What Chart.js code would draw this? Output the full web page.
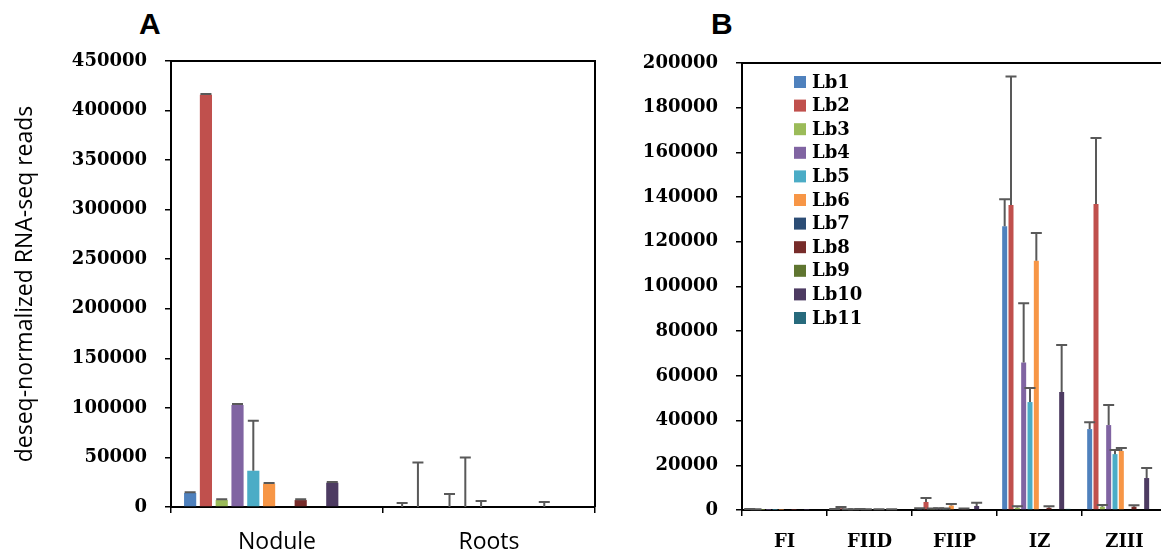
<!DOCTYPE html>
<html lang="en">
<head>
<meta charset="UTF-8">
<title>Leghemoglobin expression</title>
<script src="https://cdn.jsdelivr.net/npm/chart.js"></script>
<style>
  html, body { margin: 0; padding: 0; overflow: hidden; background: #fff; width: 1161px; height: 556px; }
  .panel { position: absolute; top: 0; }
  .tag { position: absolute; top: 9px; font: bold 30px "Liberation Sans", Arial, sans-serif; line-height: 30px; }
</style>
</head>
<body>
<div class="tag" style="left:139px">A</div>
<div class="tag" style="left:711px">B</div>
<canvas id="chartA" class="panel" style="left:0" width="610" height="556"></canvas>
<canvas id="chartB" class="panel" style="left:620px" width="560" height="556"></canvas>

<script>
// genes and colours
const genes = ['Lb1', 'Lb2', 'Lb3', 'Lb4', 'Lb5', 'Lb6', 'Lb7', 'Lb8', 'Lb9', 'Lb10', 'Lb11'];
const geneColors = ['#4F81BD', '#C0504D', '#9BBB59', '#8064A2', '#4BACC6', '#F79646',
                    '#2C4D75', '#772C2A', '#5F7530', '#4D3B62', '#276A7C'];

// panel A: tissues (values per gene, Lb1..Lb11)
const tissues = ['Nodule', 'Roots'];
const noduleMeans = [14200, 416000, 7000, 103000, 36600, 23500, 0, 7000, 0, 24500, 0];
const noduleErr   = [800, 800, 800, 800, 50400, 600, 0, 800, 0, 600, 0];
const rootsMeans  = [0, 0, 0, 0, 0, 0, 0, 0, 0, 0, 0];
const rootsErr    = [4000, 45000, 0, 13000, 50000, 6000, 0, 0, 0, 5000, 0];

// panel B: nodule zones
const zones = ['FI', 'FIID', 'FIIP', 'IZ', 'ZIII'];
const fiMeans   = [300, 200, 100, 100, 100, 100, 0, 100, 0, 100, 0];
const fiErr     = [100, 100, 0, 0, 0, 0, 0, 0, 0, 0, 0];
const fiidMeans = [300, 800, 200, 200, 300, 200, 0, 200, 0, 200, 0];
const fiidErr   = [100, 500, 100, 100, 100, 100, 0, 100, 0, 100, 0];
const fiipMeans = [600, 3600, 500, 600, 500, 2000, 0, 500, 0, 1800, 0];
const fiipErr   = [200, 1800, 200, 200, 200, 700, 0, 200, 0, 1400, 0];
const izMeans   = [127000, 136500, 1000, 66000, 48300, 111500, 0, 1000, 0, 52800, 500];
const izErr     = [12000, 57500, 700, 26500, 6300, 12400, 0, 700, 0, 21000, 0];
const ziiiMeans = [36200, 136900, 1500, 38000, 25000, 26400, 0, 1500, 0, 14300, 0];
const ziiiErr   = [3100, 29500, 700, 9000, 1800, 1300, 0, 600, 0, 4500, 0];

const serifBold = { family: 'DejaVu Serif', weight: 'bold', size: 18 };

function buildDatasets(meansByCat, errByCat) {
    const sets = genes.map((g, i) => ({
        label: g,
        data: meansByCat.map(m => m[i]),
        errors: errByCat.map(e => e[i]),
        backgroundColor: geneColors[i],
        borderWidth: 0
    }));
    // empty trailing series (the original sheet leaves an unused slot)
    sets.push({ label: '', data: meansByCat.map(() => null), errors: [] });
    return sets;
}

// upper error bars drawn from the bar tops
const errorBars = {
    id: 'errorBars',
    afterDatasetsDraw(chart) {
        const ctx = chart.ctx;
        const y = chart.scales.y;
        ctx.save();
        ctx.strokeStyle = '#595959';
        ctx.lineWidth = 2;
        chart.data.datasets.forEach((ds, di) => {
            const meta = chart.getDatasetMeta(di);
            meta.data.forEach((bar, j) => {
                const err = ds.errors[j];
                if (!err) return;
                const top = y.getPixelForValue(ds.data[j] + err);
                ctx.beginPath();
                ctx.moveTo(bar.x, bar.y);
                ctx.lineTo(bar.x, top);
                ctx.moveTo(bar.x - 5.5, top);
                ctx.lineTo(bar.x + 5.5, top);
                ctx.stroke();
            });
        });
        ctx.restore();
    }
};

// top and right borders of the plot box
const frame = {
    id: 'frame',
    afterDraw(chart) {
        const { left, right, top, bottom } = chart.chartArea;
        const ctx = chart.ctx;
        ctx.save();
        ctx.strokeStyle = '#000';
        ctx.lineWidth = 2;
        ctx.beginPath();
        ctx.moveTo(left, top);
        ctx.lineTo(right, top);
        ctx.lineTo(right, bottom);
        ctx.stroke();
        ctx.restore();
    }
};

// legend inside the plot of panel B
const innerLegend = {
    id: 'innerLegend',
    afterDraw(chart) {
        const ctx = chart.ctx;
        ctx.save();
        ctx.font = 'bold 18px "DejaVu Serif"';
        ctx.textBaseline = 'middle';
        chart.data.datasets.filter(d => d.label).forEach((ds, i) => {
            const cy = 82 + i * 23.6;
            ctx.fillStyle = ds.backgroundColor;
            ctx.fillRect(174, cy - 6, 12, 12);
            ctx.fillStyle = '#000';
            ctx.fillText(ds.label, 192, cy + 1);
        });
        ctx.restore();
    }
};

function axisOptions(max, step, yWidth, xHeight, xFont, xPad, yTitle) {
    return {
        x: {
            grid: { offset: true, drawOnChartArea: false, tickLength: 6, color: '#000', lineWidth: 1.5 },
            border: { color: '#000', width: 2 },
            ticks: { color: '#000', font: xFont, padding: xPad, maxRotation: 0 },
            afterFit: s => { s.height = xHeight; }
        },
        y: {
            min: 0, max: max,
            grid: { drawOnChartArea: false, tickLength: 6, color: '#000', lineWidth: 1.5 },
            border: { color: '#000', width: 2 },
            ticks: { stepSize: step, color: '#000', font: serifBold, padding: 18, callback: v => String(v) },
            title: yTitle,
            afterFit: s => { s.width = yWidth; }
        }
    };
}

const common = {
    responsive: false,
    animation: false,
    plugins: { legend: { display: false }, tooltip: { enabled: false } }
};

new Chart(document.getElementById('chartA'), {
    type: 'bar',
    data: {
        labels: tissues,
        datasets: buildDatasets([noduleMeans, rootsMeans], [noduleErr, rootsErr])
    },
    options: Object.assign({}, common, {
        datasets: { bar: { categoryPercentage: 0.894, barPercentage: 0.77 } },
        layout: { padding: { top: 61, right: 15, left: 0, bottom: 0 } },
        scales: axisOptions(450000, 50000, 171, 49, { family: 'Open Sans', size: 23 }, 16, {
            display: true,
            text: 'deseq-normalized RNA-seq reads',
            color: '#000',
            font: { family: 'Open Sans', size: 23 },
            padding: { top: 12, bottom: 0 }
        })
    }),
    plugins: [errorBars, frame]
});

new Chart(document.getElementById('chartB'), {
    type: 'bar',
    data: {
        labels: zones,
        datasets: buildDatasets([fiMeans, fiidMeans, fiipMeans, izMeans, ziiiMeans],
                                [fiErr, fiidErr, fiipErr, izErr, ziiiErr])
    },
    options: Object.assign({}, common, {
        datasets: { bar: { categoryPercentage: 0.894, barPercentage: 0.79 } },
        layout: { padding: { top: 63, right: 13, left: 0, bottom: 0 } },
        scales: axisOptions(200000, 20000, 122, 46, serifBold, 16, { display: false })
    }),
    plugins: [errorBars, frame, innerLegend]
});
</script>
</body>
</html>
